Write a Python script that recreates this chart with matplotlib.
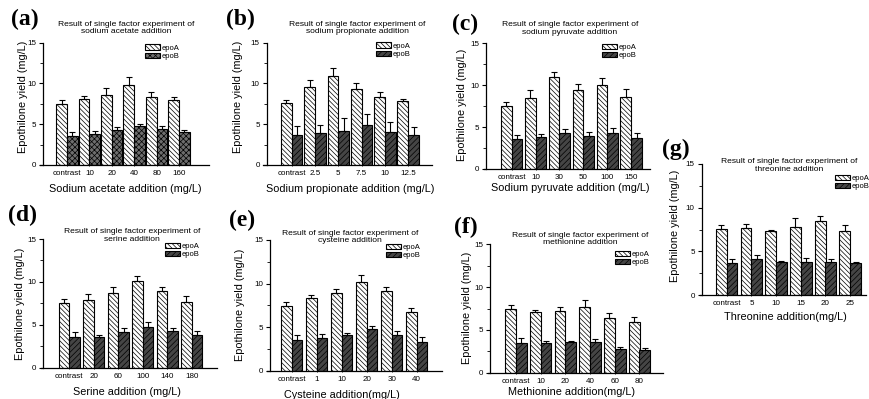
import numpy as np
import matplotlib
matplotlib.use("Agg")
import matplotlib.pyplot as plt

plt.rcParams['font.family'] = ['Liberation Sans', 'DejaVu Sans']
plt.rcParams['hatch.linewidth'] = 0.5

# ---- data ----
letters = ["(a)", "(b)", "(c)", "(d)", "(e)", "(f)", "(g)"]
subjects = ["sodium acetate addition", "sodium propionate addition", "sodium pyruvate addition",
            "serine addition", "cysteine addition", "methionine addition", "threonine addition"]
xlabels = ["Sodium acetate addition (mg/L)", "Sodium propionate addition (mg/L)",
           "Sodium pyruvate addition (mg/L)", "Serine addition (mg/L)",
           "Cysteine addition(mg/L)", "Methionine addition(mg/L)", "Threonine addition(mg/L)"]

ticks_a = ["contrast", "10", "20", "40", "80", "160"]
ticks_b = ["contrast", "2.5", "5", "7.5", "10", "12.5"]
ticks_c = ["contrast", "10", "30", "50", "100", "150"]
ticks_d = ["contrast", "20", "60", "100", "140", "180"]
ticks_e = ["contrast", "1", "10", "20", "30", "40"]
ticks_f = ["contrast", "10", "20", "40", "60", "80"]
ticks_g = ["contrast", "5", "10", "15", "20", "25"]

epoA_a = [7.53, 8.07, 8.64, 9.80, 8.35, 7.94]
epoA_a_err = [0.50, 0.40, 0.85, 0.95, 0.60, 0.35]
epoB_a = [3.55, 3.83, 4.24, 4.77, 4.36, 4.03]
epoB_a_err = [0.50, 0.33, 0.40, 0.30, 0.37, 0.30]

epoA_b = [7.55, 9.52, 10.91, 9.32, 8.30, 7.85]
epoA_b_err = [0.45, 0.85, 0.95, 0.70, 0.60, 0.25]
epoB_b = [3.62, 3.88, 4.17, 4.90, 4.09, 3.64]
epoB_b_err = [1.15, 1.05, 1.55, 1.30, 1.15, 1.00]

epoA_c = [7.48, 8.52, 10.92, 9.48, 10.00, 8.56]
epoA_c_err = [0.50, 0.95, 0.70, 0.70, 0.80, 1.00]
epoB_c = [3.60, 3.80, 4.32, 3.96, 4.24, 3.68]
epoB_c_err = [0.50, 0.40, 0.48, 0.44, 0.68, 0.64]

epoA_d = [7.52, 7.87, 8.69, 10.13, 8.96, 7.64]
epoA_d_err = [0.47, 0.74, 0.70, 0.58, 0.39, 0.66]
epoB_d = [3.58, 3.62, 4.17, 4.71, 4.25, 3.78]
epoB_d_err = [0.55, 0.20, 0.50, 0.58, 0.42, 0.50]

epoA_e = [7.46, 8.38, 8.88, 10.14, 9.15, 6.70]
epoA_e_err = [0.46, 0.27, 0.46, 0.80, 0.46, 0.53]
epoB_e = [3.52, 3.79, 4.09, 4.75, 4.09, 3.29]
epoB_e_err = [0.57, 0.38, 0.27, 0.38, 0.46, 0.54]

epoA_f = [7.42, 7.11, 7.19, 7.62, 6.37, 5.98]
epoA_f_err = [0.50, 0.23, 0.47, 0.90, 0.66, 0.58]
epoB_f = [3.52, 3.52, 3.59, 3.59, 2.81, 2.66]
epoB_f_err = [0.50, 0.20, 0.12, 0.40, 0.24, 0.23]

epoA_g = [7.58, 7.63, 7.32, 7.82, 8.46, 7.35]
epoA_g_err = [0.45, 0.47, 0.08, 0.95, 0.57, 0.65]
epoB_g = [3.65, 4.12, 3.82, 3.82, 3.82, 3.70]
epoB_g_err = [0.50, 0.42, 0.11, 0.38, 0.26, 0.12]

ticks = [ticks_a, ticks_b, ticks_c, ticks_d, ticks_e, ticks_f, ticks_g]
epoA = [epoA_a, epoA_b, epoA_c, epoA_d, epoA_e, epoA_f, epoA_g]
epoA_err = [epoA_a_err, epoA_b_err, epoA_c_err, epoA_d_err, epoA_e_err, epoA_f_err, epoA_g_err]
epoB = [epoB_a, epoB_b, epoB_c, epoB_d, epoB_e, epoB_f, epoB_g]
epoB_err = [epoB_a_err, epoB_b_err, epoB_c_err, epoB_d_err, epoB_e_err, epoB_f_err, epoB_g_err]

# ---- layout in pixels (870 x 399 canvas) ----
# hstart, yaxis, right, top(15), bottom(0), first group centre, group pitch
boxes = [(40, 43, 209, 42.7, 165, 67, 22.4),
         (263, 266.7, 431.7, 42.7, 165, 291.7, 23.3),
         (484, 486, 650, 43.3, 169, 511.7, 23.9),
         (41, 43.3, 216.7, 239, 367.7, 69.3, 24.5),
         (266.7, 270, 441.7, 240, 370.7, 291.7, 25),
         (488, 490, 662.7, 244.3, 372.7, 516, 24.7),
         (700, 701.7, 866, 164, 295, 726.7, 24.7)]
title_xy = [(126, 28), (357, 28), (570, 28.5), (132, 235.5), (350, 237), (580, 239), (789, 165.5)]
legend_xy = [(145, 44.5), (376, 42.5), (602, 43.5), (165, 242.5), (386, 244), (615, 251), (835, 175)]
letter_xy = [(25, 19), (240, 19), (465, 24), (23, 215), (242, 220), (466, 227), (676, 149)]
xlab_xy = [(125, 189.5), (350, 189), (570, 188), (127, 391.7), (342, 395), (571, 391.7), (785, 316.7)]
ylab_xy = [(23, 97), (238, 97), (462, 105), (20, 304), (240, 305), (467, 308), (675, 226)]

W, H = 870, 399
fig = plt.figure(figsize=(W / 100, H / 100), dpi=100)

for k in range(7):
    hs, ya, rt, tp, bt, g0, pitch = boxes[k]
    ax = fig.add_axes([hs / W, 1 - bt / H, (rt - hs) / W, (bt - tp) / H])

    def frac(px, py):
        return (px - hs) / (rt - hs), (bt - py) / (bt - tp)

    n = len(ticks[k])
    x = np.arange(n)
    w = 10.7 / pitch
    if k == 0:
        b_face, b_hatch = "#6e6e6e", "xxxxxx"
    else:
        b_face, b_hatch = "#454545", "//////"

    ba = ax.bar(x - w / 2, epoA[k], w, color="white", edgecolor="black",
                hatch="\\\\\\\\\\\\\\", linewidth=0.8, label="epoA", zorder=2)
    bb = ax.bar(x + w / 2, epoB[k], w, color=b_face, edgecolor="black",
                hatch=b_hatch, linewidth=0.8, label="epoB", zorder=2)
    ax.errorbar(x - w / 2, epoA[k], yerr=[np.zeros(n), epoA_err[k]], fmt="none",
                ecolor="black", elinewidth=0.8, capsize=2, capthick=0.8, zorder=3)
    ax.errorbar(x + w / 2, epoB[k], yerr=[np.zeros(n), epoB_err[k]], fmt="none",
                ecolor="black", elinewidth=0.8, capsize=2, capthick=0.8, zorder=3)

    ax.set_xlim((hs - g0) / pitch, (rt - g0) / pitch)
    ax.set_ylim(0, 15)
    ax.spines["top"].set_visible(False)
    ax.spines["right"].set_visible(False)
    ax.spines["left"].set_position(("axes", (ya - hs) / (rt - hs)))
    for s in ("left", "bottom"):
        ax.spines[s].set_linewidth(0.9)
    ax.set_yticks([0, 5, 10, 15])
    ax.set_yticks(np.arange(0, 15.1, 2.5), minor=True)
    ax.set_xticks(x)
    ax.set_xticklabels(ticks[k])
    ax.tick_params(axis="y", which="major", length=3, width=0.8, labelsize=5.8, pad=2)
    ax.tick_params(axis="y", which="minor", length=2, width=0.6)
    ax.tick_params(axis="x", length=2, width=0.6, direction="inout", labelsize=5.8, pad=2.5)

    ax.legend(handles=[ba, bb], loc="upper left", bbox_to_anchor=frac(*legend_xy[k]),
              frameon=False, fontsize=5.5, handlelength=1.9, handleheight=0.7,
              handletextpad=0.3, labelspacing=0.1, borderpad=0, borderaxespad=0)

    tx, ty = frac(*title_xy[k])
    ax.text(tx, ty, "Result of single factor experiment of\n" + subjects[k],
            transform=ax.transAxes, ha="center", va="center", fontsize=6.1,
            linespacing=1.1, clip_on=False)
    lx, ly = frac(*xlab_xy[k])
    ax.text(lx, ly, xlabels[k], transform=ax.transAxes, ha="center", va="center",
            fontsize=7.8, clip_on=False)
    yx, yy = frac(*ylab_xy[k])
    ax.text(yx, yy, "Epothilone yield (mg/L)", transform=ax.transAxes, ha="center",
            va="center", rotation=90, fontsize=7.8, clip_on=False)
    px, py = frac(*letter_xy[k])
    ax.text(px, py, letters[k], transform=ax.transAxes, ha="center", va="center",
            fontsize=17, fontweight="bold", family="Liberation Serif", clip_on=False)

fig.savefig("out.png", dpi=100)
